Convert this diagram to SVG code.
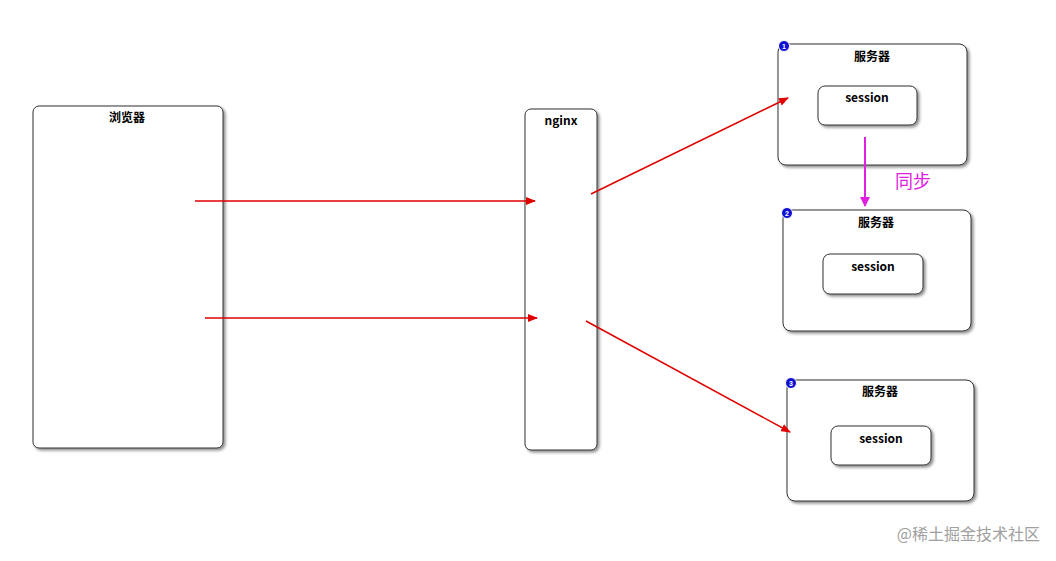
<svg xmlns="http://www.w3.org/2000/svg" width="1056" height="561" viewBox="0 0 1056 561">
<defs>
<filter id="sh" x="-10%" y="-10%" width="130%" height="130%"><feDropShadow dx="2" dy="2" stdDeviation="1.5" flood-color="#000" flood-opacity="0.45"/></filter>
<marker id="ar" markerWidth="10" markerHeight="8" refX="9" refY="4" orient="auto" markerUnits="userSpaceOnUse"><path d="M0,0 L10,4 L0,8 Z" fill="#e00000"/></marker>
<marker id="am" markerWidth="10" markerHeight="10" refX="9" refY="5" orient="auto" markerUnits="userSpaceOnUse"><path d="M0,0 L10,5 L0,10 Z" fill="#e020e0"/></marker>
<style>
.box{fill:#fff;stroke:#333;stroke-width:1;filter:url(#sh)}
.t{font-family:"Noto Sans CJK SC","Liberation Sans",sans-serif;font-size:12px;font-weight:bold;text-anchor:middle;fill:#000}
.n{fill:#1010d0;stroke:#fff;stroke-width:1}
.nt{font-family:"Liberation Sans",sans-serif;font-size:7px;font-weight:bold;fill:#fff;text-anchor:middle}
.r{stroke:#e00000;stroke-width:1.5;fill:none;marker-end:url(#ar)}
</style>
</defs>
<rect width="1056" height="561" fill="#fff"/>
<g id="browser"><rect class="box" x="33" y="106" width="190" height="342" rx="6"/><text class="t" x="127" y="122">浏览器</text></g>
<g id="nginx"><rect class="box" x="525" y="109" width="72" height="341" rx="6"/><text class="t" x="561" y="125">nginx</text></g>
<g id="server1"><rect class="box" x="778" y="44" width="189" height="121" rx="8"/><text class="t" x="872" y="61">服务器</text>
<circle class="n" cx="784" cy="46" r="5.5"/><text class="nt" x="784" y="48.5">1</text>
<rect class="box" x="818" y="86" width="99" height="39" rx="7"/><text class="t" x="867" y="102">session</text></g>
<g id="server2"><rect class="box" x="783" y="210" width="188" height="121" rx="8"/><text class="t" x="876" y="227">服务器</text>
<circle class="n" cx="787" cy="213" r="5.5"/><text class="nt" x="787" y="215.5">2</text>
<rect class="box" x="823" y="254" width="100" height="40" rx="7"/><text class="t" x="873" y="271">session</text></g>
<g id="server3"><rect class="box" x="787" y="380" width="187" height="121" rx="8"/><text class="t" x="880" y="396">服务器</text>
<circle class="n" cx="791" cy="383" r="5.5"/><text class="nt" x="791" y="385.5">3</text>
<rect class="box" x="831" y="426" width="100" height="39" rx="7"/><text class="t" x="881" y="443">session</text></g>
<g id="connectors">
<line class="r" x1="195" y1="201" x2="535" y2="201"/>
<line class="r" x1="205" y1="318" x2="537" y2="318"/>
<line class="r" x1="591" y1="194" x2="788" y2="98"/>
<line class="r" x1="586" y1="321" x2="790" y2="432"/>
<line x1="865" y1="137" x2="865" y2="206" stroke="#e020e0" stroke-width="2" marker-end="url(#am)"/>
<text x="895" y="188" font-family="Noto Sans CJK SC,sans-serif" font-size="18" fill="#e020e0">同步</text>
</g>
<text x="1040" y="540" font-family="Noto Sans CJK SC,sans-serif" font-size="16" fill="#a0a0a0" text-anchor="end">@稀土掘金技术社区</text>
</svg>
